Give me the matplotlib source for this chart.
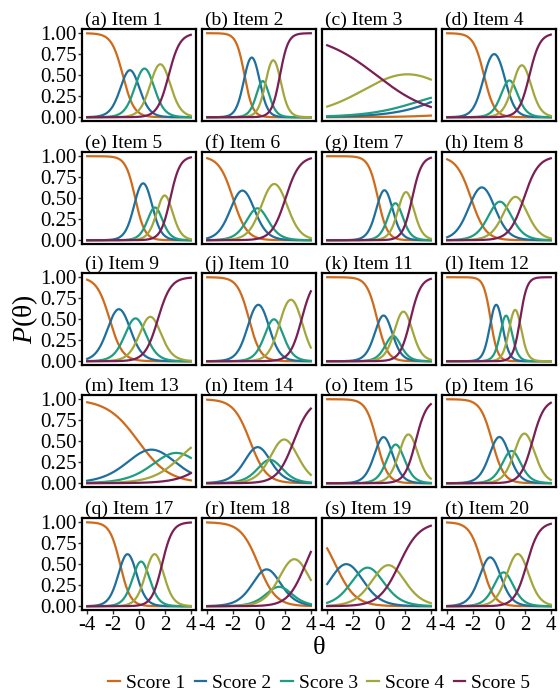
import numpy as np
import matplotlib.pyplot as plt

plt.rcParams['font.family'] = ['Liberation Serif', 'DejaVu Serif']
plt.rcParams['axes.unicode_minus'] = False
plt.rcParams['mathtext.fontset'] = 'custom'
plt.rcParams['mathtext.it'] = 'Liberation Serif:italic'
plt.rcParams['mathtext.rm'] = 'Liberation Serif'

# graded response model: discrimination a and thresholds b1..b4 per item
items = ["Item %i" % i for i in range(1, 21)]
letters = list("abcdefghijklmnopqrst")
a_vals = [2.30, 3.17, -0.47, 2.47, 2.70, 1.86, 2.74, 1.77, 2.01, 2.26,
          2.49, 3.74, 0.83, 1.57, 2.37, 2.19, 2.52, 1.47, 1.28, 2.11]
b_vals = [[-1.25, -0.15, 1.00, 2.29],
          [-1.12, 0.00, 0.58, 1.62],
          [12.3, 6.95, 4.60, -0.20],
          [-1.16, 0.42, 1.18, 2.35],
          [-0.29, 0.93, 1.54, 2.42],
          [-2.01, -0.55, 0.31, 2.05],
          [-0.08, 0.92, 1.61, 2.56],
          [-2.16, -0.49, 0.63, 1.92],
          [-2.27, -0.83, 0.29, 1.46],
          [-0.77, 0.67, 1.64, 3.29],
          [-0.14, 0.84, 1.34, 2.43],
          [-0.65, 0.22, 0.87, 1.63],
          [-0.06, 1.98, 3.80, 6.40],
          [-0.69, 0.48, 1.21, 2.68],
          [-0.17, 0.87, 1.71, 2.83],
          [-0.53, 0.60, 1.34, 2.58],
          [-1.46, -0.31, 0.63, 1.78],
          [-0.05, 1.23, 1.87, 3.59],
          [-3.38, -1.66, -0.11, 1.56],
          [-1.31, -0.05, 0.76, 2.14]]
scores = ["Score 1", "Score 2", "Score 3", "Score 4", "Score 5"]
colors = ["#CF6A1A", "#1F6F9E", "#1E9D80", "#A2A73C", "#7A1F55"]

theta = np.linspace(-4, 4, 241)


def grm(a, b, t):
    # cumulative curves P(X >= k+1), then category probabilities
    cum = [np.ones_like(t)] + [1 / (1 + np.exp(-a * (t - bk))) for bk in b] + [np.zeros_like(t)]
    return [cum[k] - cum[k + 1] for k in range(5)]


fig = plt.figure(figsize=(5.6, 7.0), dpi=100)
W, H = 560.0, 700.0
lefts = [82 + 120 * c for c in range(4)]
tops = [29, 152, 273, 395, 518]
pw, ph = 114, 92

for i in range(20):
    r, c = divmod(i, 4)
    ax = fig.add_axes([lefts[c] / W, 1 - (tops[r] + ph) / H, pw / W, ph / H])
    probs = grm(a_vals[i], b_vals[i], theta)
    for k in range(5):
        ax.plot(theta, probs[k], color=colors[k], lw=1.6, label=scores[k])
    ax.set_xlim(-4.4, 4.4)
    ax.set_ylim(-0.045, 1.05)
    ax.set_xticks([-4, -2, 0, 2, 4])
    ax.set_yticks([0, 0.25, 0.5, 0.75, 1.0])
    ax.set_yticklabels(["0.00", "0.25", "0.50", "0.75", "1.00"])
    ax.tick_params(labelsize=15, length=3, width=1, pad=1, color='#333333')
    if c != 0:
        ax.tick_params(left=False, labelleft=False)
    if r != 4:
        ax.tick_params(bottom=False, labelbottom=False)
    for s in ax.spines.values():
        s.set_linewidth(1.6)
    ax.set_title("(%s) %s" % (letters[i], items[i]), loc='left', fontsize=14, pad=2, x=0.03)
    if i == 0:
        handles, labels = ax.get_legend_handles_labels()

fig.text(0.045, 0.544, r"$P\mathrm{(\theta)}$", rotation=90, fontsize=20, ha='center', va='center')
fig.text(0.57, 0.075, "θ", fontsize=19, ha='center', va='center')
leg = fig.legend(handles, labels, loc='center', bbox_to_anchor=(0.57, 0.024), ncol=5,
                 frameon=False, fontsize=14, handlelength=0.6, handletextpad=0.3,
                 columnspacing=0.5)

fig.savefig("out.png", dpi=100)
